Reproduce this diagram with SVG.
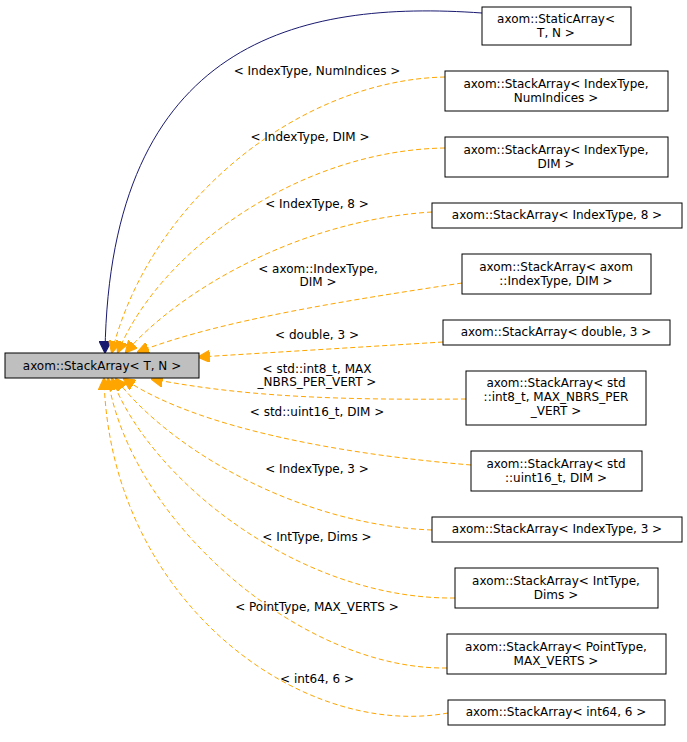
<svg xmlns="http://www.w3.org/2000/svg" width="687" height="742" viewBox="0 0 687 742">
<defs>
<style>
text{font-family:"DejaVu Sans",sans-serif;font-size:12px;text-anchor:middle;fill:#000}
.n rect{fill:#fff;stroke:#000;stroke-width:1}
.e{fill:none;stroke:orange;stroke-dasharray:5,3}
.b{fill:none;stroke:midnightblue}
</style>
<marker id="o" viewBox="0 0 10 10" refX="9" refY="5" markerWidth="12" markerHeight="12" markerUnits="userSpaceOnUse" orient="auto"><path d="M0,0L10,5L0,10z" fill="orange" stroke="orange"/></marker>
<marker id="m" viewBox="0 0 10 10" refX="9" refY="5" markerWidth="12" markerHeight="12" markerUnits="userSpaceOnUse" orient="auto"><path d="M0,0L10,5L0,10z" fill="midnightblue" stroke="midnightblue"/></marker>
</defs>
<g id="edges">
<path class="b" d="M482,13 C300,0 110,40 105,352" marker-end="url(#m)"/>
<path class="e" d="M445,77 C300,80 150,200 112,352" marker-end="url(#o)"/>
<path class="e" d="M445,148 C300,150 160,250 118,352" marker-end="url(#o)"/>
<path class="e" d="M432,212 C300,220 180,290 126,352" marker-end="url(#o)"/>
<path class="e" d="M462,283 C350,300 220,320 138,352" marker-end="url(#o)"/>
<path class="e" d="M443,342 L199,357" marker-end="url(#o)"/>
<path class="e" d="M466,399 C350,400 250,398 152,379" marker-end="url(#o)"/>
<path class="e" d="M471,465 C350,455 200,430 124,379" marker-end="url(#o)"/>
<path class="e" d="M432,530 C300,525 170,450 116,379" marker-end="url(#o)"/>
<path class="e" d="M455,598 C300,600 150,480 112,379" marker-end="url(#o)"/>
<path class="e" d="M447,668 C300,670 130,520 108,379" marker-end="url(#o)"/>
<path class="e" d="M448,713 C300,740 110,600 104,379" marker-end="url(#o)"/>
<text x="317" y="75">&lt; IndexType, NumIndices &gt;</text>
<text x="310" y="141">&lt; IndexType, DIM &gt;</text>
<text x="317" y="208">&lt; IndexType, 8 &gt;</text>
<text x="318" y="273">&lt; axom::IndexType,</text>
<text x="318" y="286">DIM &gt;</text>
<text x="317" y="339">&lt; double, 3 &gt;</text>
<text x="317" y="373">&lt; std::int8_t, MAX</text>
<text x="317" y="386">_NBRS_PER_VERT &gt;</text>
<text x="317" y="416">&lt; std::uint16_t, DIM &gt;</text>
<text x="317" y="473">&lt; IndexType, 3 &gt;</text>
<text x="317" y="541">&lt; IntType, Dims &gt;</text>
<text x="317" y="611">&lt; PointType, MAX_VERTS &gt;</text>
<text x="317" y="683">&lt; int64, 6 &gt;</text>
</g>
<g id="main" class="n"><rect x="5" y="353" width="194" height="25" style="fill:#bfbfbf"/><text x="102" y="370">axom::StackArray&lt; T, N &gt;</text></g>
<g id="n1" class="n"><rect x="482" y="7" width="149" height="38"/><text x="556" y="23">axom::StaticArray&lt;</text><text x="556" y="37">T, N &gt;</text></g>
<g id="n2" class="n"><rect x="445" y="71" width="223" height="40"/><text x="556" y="88">axom::StackArray&lt; IndexType,</text><text x="556" y="102">NumIndices &gt;</text></g>
<g id="n3" class="n"><rect x="445" y="137" width="223" height="40"/><text x="556" y="154">axom::StackArray&lt; IndexType,</text><text x="556" y="168">DIM &gt;</text></g>
<g id="n4" class="n"><rect x="432" y="203" width="250" height="25"/><text x="557" y="219">axom::StackArray&lt; IndexType, 8 &gt;</text></g>
<g id="n5" class="n"><rect x="462" y="254" width="189" height="40"/><text x="556" y="271">axom::StackArray&lt; axom</text><text x="556" y="285">::IndexType, DIM &gt;</text></g>
<g id="n6" class="n"><rect x="443" y="320" width="227" height="25"/><text x="556" y="336">axom::StackArray&lt; double, 3 &gt;</text></g>
<g id="n7" class="n"><rect x="466" y="371" width="180" height="54"/><text x="556" y="387">axom::StackArray&lt; std</text><text x="556" y="401">::int8_t, MAX_NBRS_PER</text><text x="556" y="415">_VERT &gt;</text></g>
<g id="n8" class="n"><rect x="471" y="451" width="171" height="40"/><text x="556" y="468">axom::StackArray&lt; std</text><text x="556" y="482">::uint16_t, DIM &gt;</text></g>
<g id="n9" class="n"><rect x="432" y="517" width="250" height="25"/><text x="557" y="533">axom::StackArray&lt; IndexType, 3 &gt;</text></g>
<g id="n10" class="n"><rect x="455" y="568" width="203" height="40"/><text x="556" y="585">axom::StackArray&lt; IntType,</text><text x="556" y="599">Dims &gt;</text></g>
<g id="n11" class="n"><rect x="447" y="634" width="219" height="40"/><text x="556" y="651">axom::StackArray&lt; PointType,</text><text x="556" y="665">MAX_VERTS &gt;</text></g>
<g id="n12" class="n"><rect x="448" y="700" width="217" height="25"/><text x="556" y="716">axom::StackArray&lt; int64, 6 &gt;</text></g>
</svg>
